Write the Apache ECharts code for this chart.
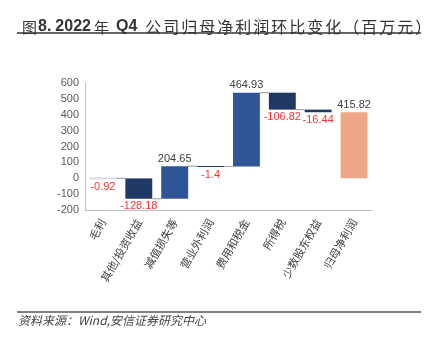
<!DOCTYPE html>
<html><head><meta charset="utf-8">
<script src="https://cdn.jsdelivr.net/npm/echarts@6/dist/echarts.min.js"></script>
<style>html,body{margin:0;padding:0;background:#fff}#c{width:427px;height:338px}</style>
</head><body><div id="c"></div>
<script>
var categories = ['毛利','其他/投资收益','减值损失等','营业外利润','费用和税金','所得税','少数股东权益','归母净利润'];
var values = [-0.92, -128.18, 204.65, -1.4, 464.93, -106.82, -16.44, 415.82];
var isTotal = [false, false, false, false, false, false, false, true];
var yTicks = {min: -200, max: 600, interval: 100};

var items = [];
var cum = 0;
for (var i = 0; i < values.length; i++) {
  var s, e;
  if (isTotal[i]) { s = 0; e = values[i]; cum = e; }
  else { s = cum; e = cum + values[i]; cum = e; }
  items.push([i, s, e, values[i]]);
}

function colorFor(i, v) {
  if (i === 0) return '#d5dce8';
  if (isTotal[i]) return '#eda686';
  return v < 0 ? '#203864' : '#2f5597';
}

function cjk(str) {
  return str.split('').map(function (ch) { return '{c|' + ch + '}'; }).join('');
}
var titleText = '{c0|图}{b|8.}{b2|2022}{c0|年}{b3|Q4}' + cjk('公司归母净利润环比变化（百万元）');

var chart = echarts.init(document.getElementById('c'));
chart.setOption({
  animation: false,
  title: {
    text: titleText,
    left: 17, top: 14,
    textStyle: {
      color: '#333',
      fontWeight: 'normal',
      rich: {
        c0: {fontFamily: 'Noto Sans CJK SC', fontSize: 15, fontWeight: 'normal', color: '#333'},
        c: {fontFamily: 'Noto Sans CJK SC', fontSize: 16, fontWeight: 'normal', color: '#333', padding: [0, 1, 0, 1]},
        b: {fontFamily: 'Liberation Sans', fontSize: 16, fontWeight: 'bold', color: '#333', padding: [0, 4, 0, 1]},
        b2: {fontFamily: 'Liberation Sans', fontSize: 16, fontWeight: 'bold', color: '#333', padding: [0, 3, 0, 0]},
        b3: {fontFamily: 'Liberation Sans', fontSize: 16, fontWeight: 'bold', color: '#333', padding: [0, 7, 0, 7]}
      }
    }
  },
  graphic: [
    {type: 'line', shape: {x1: 17, y1: 33, x2: 421, y2: 33}, style: {stroke: '#333', lineWidth: 1.5}},
    {type: 'line', shape: {x1: 17, y1: 312, x2: 421, y2: 312}, style: {stroke: '#555', lineWidth: 1.5}},
    {type: 'text', left: 18, top: 314, style: {text: '资料来源：Wind,安信证券研究中心', font: 'italic 12px "Noto Sans CJK SC"', fill: '#444'}}
  ],
  grid: {left: 85, right: 55, top: 83, bottom: 128},
  xAxis: {
    type: 'category', data: categories,
    axisLine: {onZero: false, lineStyle: {color: '#bfbfbf'}},
    axisTick: {show: false},
    axisLabel: {interval: 0, rotate: 60, fontSize: 11, color: '#404040', fontFamily: 'Noto Sans CJK SC', margin: 10}
  },
  yAxis: {
    type: 'value', min: yTicks.min, max: yTicks.max, interval: yTicks.interval,
    axisLine: {show: true, lineStyle: {color: '#bfbfbf'}},
    axisTick: {show: false},
    splitLine: {show: false},
    axisLabel: {fontSize: 11, color: '#595959', fontFamily: 'Liberation Sans', margin: 6}
  },
  series: [{
    type: 'custom',
    data: items,
    encode: {x: 0, y: [1, 2]},
    renderItem: function (params, api) {
      var idx = api.value(0), s = api.value(1), e = api.value(2), v = api.value(3);
      var p1 = api.coord([idx, s]), p2 = api.coord([idx, e]);
      var bw = api.size([1, 0])[0] * 0.75;
      var top = Math.min(p1[1], p2[1]), h = Math.abs(p1[1] - p2[1]);
      var minH = idx === 0 ? 2 : 1;
      if (h < minH) { h = minH; top = p2[1] - minH / 2; }
      var x0 = p1[0] - bw / 2;
      var children = [{
        type: 'rect',
        shape: {x: x0, y: top, width: bw, height: h},
        style: {fill: colorFor(idx, v)}
      }];
      if (idx < values.length - 1 && !isTotal[idx + 1]) {
        var nx = api.coord([idx + 1, e]);
        children.push({
          type: 'line',
          shape: {x1: x0 + bw, y1: p2[1], x2: nx[0] - bw / 2, y2: p2[1]},
          style: {stroke: '#a6a6a6', lineWidth: 1.2}
        });
      }
      var neg = v < 0;
      children.push({
        type: 'text',
        style: {
          text: String(v),
          x: p1[0], y: neg ? top + h + 2 : top - 2,
          textAlign: 'center', textVerticalAlign: neg ? 'top' : 'bottom',
          fill: neg ? '#ff3030' : '#404040',
          font: '11px "Liberation Sans"'
        }
      });
      return {type: 'group', children: children};
    }
  }]
});
</script></body></html>
